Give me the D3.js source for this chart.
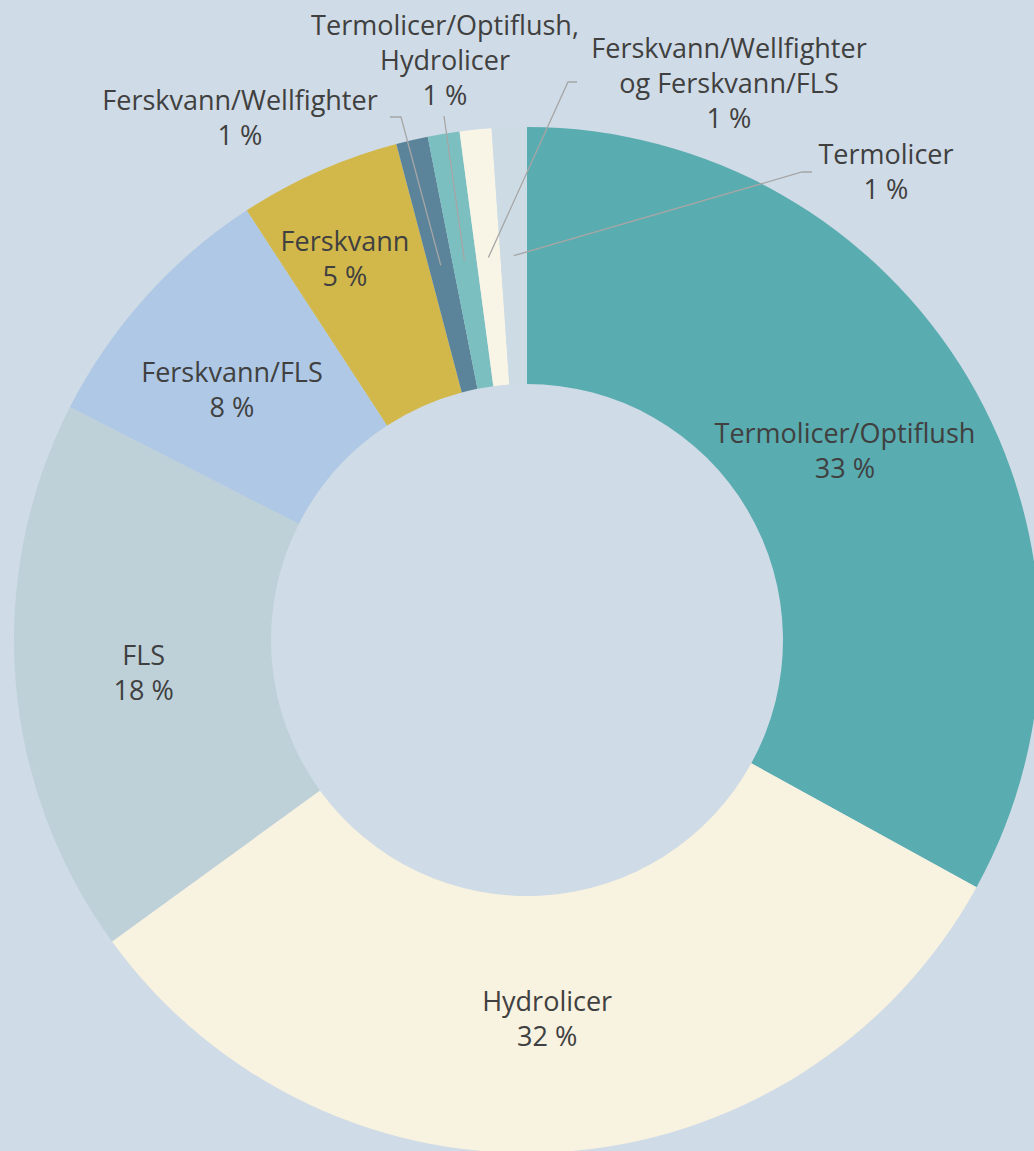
<!DOCTYPE html>
<html>
<head>
<meta charset="utf-8">
<script src="https://cdn.jsdelivr.net/npm/d3@7"></script>
<style>
  body { margin: 0; background: #cfdbe6; }
  svg text { font-family: "Open Sans", sans-serif; fill: #404040; }
</style>
</head>
<body>
<svg width="1034" height="1151"></svg>
<script>
// slice names (each entry is the lines of its label)
const categories = [
  ["Termolicer/Optiflush"],
  ["Hydrolicer"],
  ["FLS"],
  ["Ferskvann/FLS"],
  ["Ferskvann"],
  ["Ferskvann/Wellfighter"],
  ["Termolicer/Optiflush,", "Hydrolicer"],
  ["Ferskvann/Wellfighter", "og Ferskvann/FLS"],
  ["Termolicer"],
];

// share of treatments, percent
const values = [33, 32, 17.5, 8.3, 5.1, 1, 1, 1, 1.1];

const colors = [
  "#59acb0", "#f8f2e0", "#bed0d8", "#aec8e5", "#d2b84b",
  "#5b8399", "#7bbfc0", "#f8f5e7", "#cddce4",
];

// label layout: inside labels get a nudge from the centroid,
// outside labels get a text spot and a leader elbow
const labelNudge = [[-13, -1], [-4, -13], [0, -5], [-9, -1], [-26, -38]];
const outside = {
  5: { x: 240, y: 110, line: [[390, 117], [401, 117]] },
  6: { x: 445, y: 35, line: [[444, 116]] },
  7: { x: 729, y: 58, line: [[577, 82], [568, 82]] },
  8: { x: 886, y: 164, line: [[812, 172], [802, 172]] },
};

const cx = 527, cy = 640;
const outerR = 513, innerR = 256;
const lineH = 35;

const svg = d3.select("svg");
const g = svg.append("g").attr("transform", `translate(${cx},${cy})`);

const pie = d3.pie().sort(null).value((d) => d);
const arcs = pie(values);
const total = d3.sum(values);

const arc = d3.arc().innerRadius(innerR).outerRadius(outerR);
const mid = d3.arc().innerRadius((innerR + outerR) / 2).outerRadius((innerR + outerR) / 2);

g.selectAll("path.slice")
  .data(arcs)
  .enter()
  .append("path")
  .attr("class", "slice")
  .attr("d", arc)
  .attr("fill", (d, i) => colors[i]);

function pct(d) {
  return Math.round((d.value / total) * 100) + " %";
}

// leader lines for the small slices
arcs.forEach((d, i) => {
  const o = outside[i];
  if (!o) return;
  const c = mid.centroid(d);
  const pts = o.line.map((p) => [p[0] - cx, p[1] - cy]).concat([c]);
  g.append("path")
    .attr("d", d3.line()(pts))
    .attr("fill", "none")
    .attr("stroke", "#a6a6a6")
    .attr("stroke-width", 1.3);
});

// labels
arcs.forEach((d, i) => {
  let x, y;
  if (outside[i]) {
    x = outside[i].x - cx;
    y = outside[i].y - cy;
  } else {
    const c = mid.centroid(d);
    x = c[0] + labelNudge[i][0];
    y = c[1] + labelNudge[i][1];
  }
  const lines = categories[i].concat([pct(d)]);
  const t = g.append("text")
    .attr("text-anchor", "middle")
    .attr("font-size", "27px");
  lines.forEach((s, k) => {
    t.append("tspan").attr("x", x).attr("y", y + k * lineH).text(s);
  });
});
</script>
</body>
</html>
